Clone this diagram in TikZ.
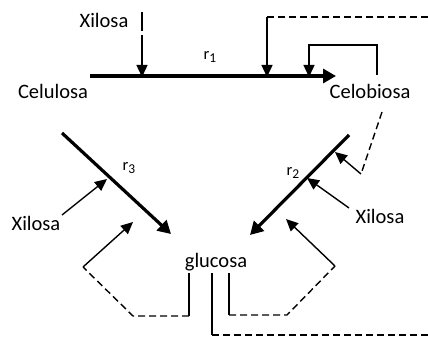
\documentclass[tikz,border=0pt]{standalone}
\usepackage{fontspec}
\setmainfont{Carlito}
\usetikzlibrary{arrows.meta}
\newcommand{\rsub}[1]{r\raisebox{-2.5pt}{\fontsize{13.5}{14}\selectfont #1}}
\tikzset{
  lbl/.style={inner sep=0pt, font=\fontsize{20.5}{24}\selectfont},
  rlbl/.style={inner sep=0pt, font=\fontsize{16.5}{19}\selectfont},
  thin/.style={line width=1.4pt},
  thick/.style={line width=3.2pt},
  tip/.style={-{Triangle[length=12pt,width=11pt]}},
  bigtip/.style={-{Triangle[length=13pt,width=14pt]}},
  dsh/.style={line width=1.4pt, dash pattern=on 7pt off 4pt},
}
\begin{document}
\begin{tikzpicture}[x=1pt,y=-1pt]
\useasboundingbox (0,0) rectangle (428,339);

% species labels
\node[lbl] (cel)  at (53,91)   {Celulosa};
\node[lbl] (cb)   at (370,91)  {Celobiosa};
\node[lbl] (glu)  at (216,262) {glucosa};
\node[lbl] (x1)   at (104,20)  {Xilosa};
\node[lbl] (x2)   at (380,216) {Xilosa};
\node[lbl] (x3)   at (36,223)  {Xilosa};

% rate labels
\node[rlbl] (r1) at (210,57)  {\rsub{1}};
\node[rlbl] (r2) at (293,173) {\rsub{2}};
\node[rlbl] (r3) at (129,168) {\rsub{3}};

% reaction 1: celulosa -> celobiosa
\coordinate (a1) at (90,76);
\coordinate (b1) at (336,76);
\draw[thick,bigtip] (a1) -- (b1);

% xilosa inhibition on r1
\coordinate (xa) at (142,12);
\coordinate (xb) at (142,77);
\draw[thin,tip,dash pattern=on 19pt off 4pt on 200pt] (xa) -- (xb);

% glucosa feedback on r1 (long dashed return)
\coordinate (ga) at (212,273);
\coordinate (gb) at (212,335);
\coordinate (gc) at (428,335);
\coordinate (gd) at (428,17);
\coordinate (ge) at (267,17);
\coordinate (gf) at (267,77);
\draw[thin] (ga) -- (gb);
\draw[dsh] (gb) -- (gc);
\draw[dsh] (gd) -- (ge);
\draw[thin,tip] (ge) -- (gf);

% celobiosa self-inhibition on r1
\coordinate (ca) at (377,75);
\coordinate (cb1) at (377,45);
\coordinate (cb2) at (309,45);
\coordinate (cb3) at (309,77);
\draw[thin,tip] (ca) -- (cb1) -- (cb2) -- (cb3);

% reaction 2: celobiosa -> glucosa
\coordinate (a2) at (349,135);
\coordinate (b2) at (250,235);
\draw[thick,bigtip] (a2) -- (b2);

% celobiosa inhibition on r2
\coordinate (da) at (382,112);
\coordinate (db) at (361,174);
\coordinate (dc) at (335,152);
\draw[dsh] (da) -- (db);
\draw[thin,tip] (db) -- (dc);

% xilosa inhibition on r2
\coordinate (ea) at (349,208);
\coordinate (eb) at (307,178);
\draw[thin,tip] (ea) -- (eb);

% glucosa inhibition on r2
\coordinate (fa) at (229,273);
\coordinate (fb) at (229,315);
\coordinate (fc) at (287,315);
\coordinate (fd) at (335,266);
\coordinate (fe) at (286,219);
\draw[thin] (fa) -- (fb);
\draw[dsh] (fb) -- (fc) -- (fd);
\draw[thin,tip] (fd) -- (fe);

% reaction 3: celulosa -> glucosa
\coordinate (a3) at (62,133);
\coordinate (b3) at (171,234);
\draw[thick,bigtip] (a3) -- (b3);

% xilosa inhibition on r3
\coordinate (ha) at (62,215);
\coordinate (hb) at (107,179);
\draw[thin,tip] (ha) -- (hb);

% glucosa inhibition on r3
\coordinate (ia) at (189,273);
\coordinate (ib) at (189,316);
\coordinate (ic) at (133,316);
\coordinate (id) at (83,267);
\coordinate (ie) at (133,222);
\draw[thin] (ia) -- (ib);
\draw[dsh] (ib) -- (ic) -- (id);
\draw[thin,tip] (id) -- (ie);
\end{tikzpicture}
\end{document}
